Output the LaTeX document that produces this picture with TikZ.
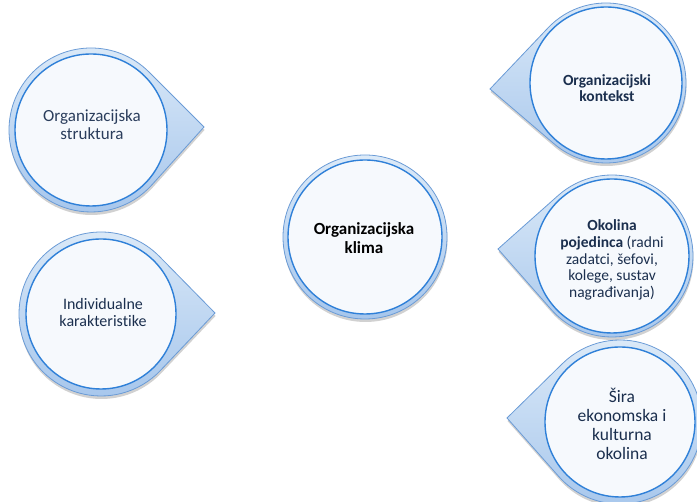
\documentclass[tikz,border=0pt]{standalone}
\usepackage{fontspec}
\setmainfont{Carlito}[Ligatures={NoCommon}]
\usetikzlibrary{calc,shadows}
\definecolor{ringtop}{HTML}{DCEAF8}
\definecolor{ringbot}{HTML}{A6C6EC}
\definecolor{ringline}{HTML}{6A9BD6}
\definecolor{innerline}{HTML}{2F80D8}
\definecolor{innerfill}{HTML}{F6F9FD}
\definecolor{navytext}{HTML}{1B2F4E}
\definecolor{greytext}{HTML}{2A3D5C}
\tikzset{
  outerring/.style={draw=ringline, line width=0.8pt, top color=ringtop, bottom color=ringbot,
    drop shadow={shadow xshift=0.5pt, shadow yshift=-3pt, opacity=0.18, fill=black}},
  innerdisc/.style={draw=innerline, line width=1.4pt, fill=innerfill},
  labeltext/.style={align=center, inner sep=0pt},
}
% #1,#2 centre, #3 outer radius, #4 inner radius, #5,#6 tip
\newcommand\teardropshape[6]{%
  \path[outerring] let \p1=($(#5,#6)-(#1,#2)$), \n1={veclen(\x1,\y1)},
    \n2={atan2(\y1,\x1)}, \n3={acos(#3/\n1)} in
    (#5,#6) -- ($(#1,#2)+(\n2+\n3:#3pt)$)
    arc[start angle=\n2+\n3, end angle=\n2+360-\n3, radius=#3pt] -- cycle;
  \path[innerdisc] (#1,#2) circle[radius=#4pt];
}
\begin{document}
\begin{tikzpicture}[x=1pt,y=1pt]
\useasboundingbox (0,0) rectangle (697,502);
\clip (0,0) rectangle (697,502);
% left shapes
\teardropshape{91}{372}{82}{76}{204}{375}
\teardropshape{101}{188}{82}{75}{215}{189}
% centre
\path[outerring] (365,265) circle[radius=82pt];
\path[innerdisc] (365,265) circle[radius=77pt];
% right shapes
\teardropshape{606}{419}{80}{76}{490}{413}
\teardropshape{612}{246}{81}{77}{498}{253}
\teardropshape{620}{80}{82}{75}{507}{84}
% texts
\node[labeltext, text=greytext, font=\fontsize{17}{18}\selectfont] (struktura) at (92,377)
  {Organizacijska\\struktura};
\node[labeltext, text=navytext, font=\fontsize{16}{17}\selectfont] (individualne) at (103,189)
  {Individualne\\karakteristike};
\node[labeltext, text=black, font=\fontsize{17}{18.5}\selectfont\bfseries] (klima) at (364,264)
  {Organizacijska\\klima};
\node[labeltext, text=navytext, font=\fontsize{15.5}{15.5}\selectfont\bfseries] (kontekst) at (607,414)
  {Organizacijski\\kontekst};
\node[labeltext, text=navytext, font=\fontsize{15.5}{16.7}\selectfont] (okolina) at (612,242)
  {\textbf{Okolina}\\\textbf{pojedinca} (radni\\zadatci, šefovi,\\kolege, sustav\\nagrađivanja)};
\node[labeltext, text=navytext, font=\fontsize{17.5}{19}\selectfont] (sira) at (622,78)
  {Šira\\ekonomska i\\kulturna\\okolina};
\end{tikzpicture}
\end{document}
